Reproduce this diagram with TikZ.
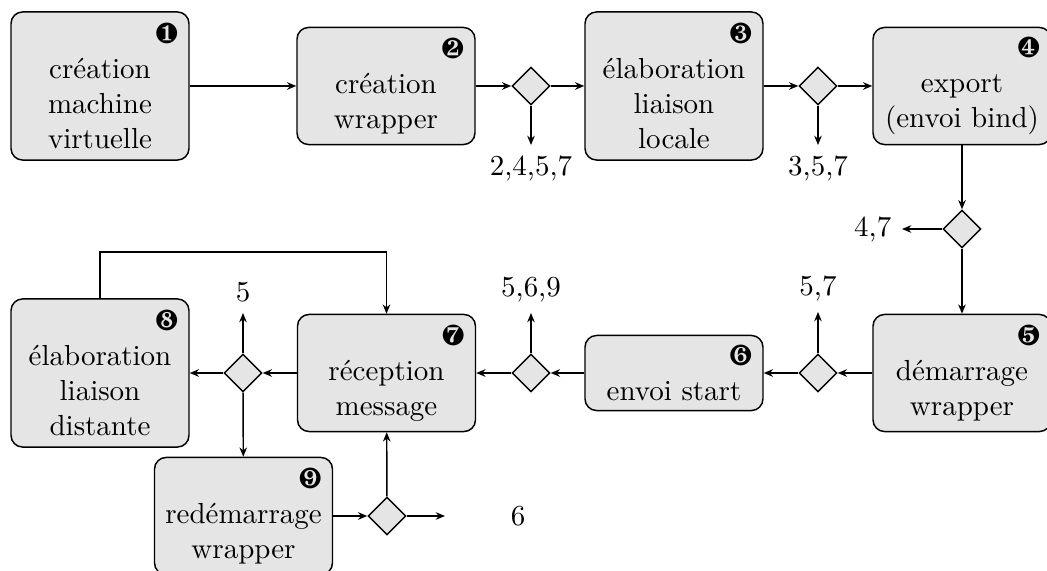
\documentclass[tikz,border=0pt]{standalone}
\usepackage{pifont}
\usetikzlibrary{shapes.geometric,arrows.meta}
\begin{document}
\begin{tikzpicture}[x=0.345pt,y=-0.345pt,
  box/.style={draw=black, fill=black!10, rounded corners=4pt, line width=0.5pt, align=center, text width=54pt, inner xsep=3.7pt, inner ysep=3pt, minimum width=61.4pt},
  h4/.style={minimum height=51.1pt},
  h3/.style={minimum height=40.4pt},
  h2/.style={minimum height=25.9pt},
  dia/.style={draw=black, fill=black!10, diamond, minimum width=13.1pt, minimum height=13.1pt, inner sep=0pt, line width=0.5pt},
  lbl/.style={inner sep=3.5pt},
  arr/.style={-{Stealth[length=3.2pt,width=2.6pt]}, line width=0.5pt}
]
\useasboundingbox (0,0) rectangle (1047,571);
% top row
\node[box,h4] (b1) at (100,86) {\hfill\ding{182}\\création\\machine\\virtuelle};
\node[box,h3] (b2) at (386,86) {\hfill\ding{183}\\création\\wrapper};
\node[dia] (d1) at (531,86) {};
\node[box,h4] (b3) at (674,86) {\hfill\ding{184}\\élaboration\\liaison\\locale};
\node[dia] (d2) at (818,86) {};
\node[box,h3] (b4) at (962,86) {\hfill\ding{185}\\export\\(envoi bind)};
\node[lbl,anchor=north] (l1) at (531,145) {2,4,5,7};
\node[lbl,anchor=north] (l2) at (818,145) {3,5,7};
% right column
\node[dia] (d3) at (962,229) {};
\node[lbl,anchor=east] (l3) at (902,229) {4,7};
% middle row
\node[box,h3] (b5) at (962,373) {\hfill\ding{186}\\démarrage\\wrapper};
\node[dia] (d4) at (818,373) {};
\node[box,h2] (b6) at (674,373) {\hfill\ding{187}\\envoi start};
\node[dia] (d5) at (531,373) {};
\node[box,h3] (b7) at (386.5,373) {\hfill\ding{188}\\réception\\message};
\node[dia] (d6) at (243,373) {};
\node[box,h4] (b8) at (100,373) {\hfill\ding{189}\\élaboration\\liaison\\distante};
\node[lbl,anchor=south] (l4) at (818,312) {5,7};
\node[lbl,anchor=south] (l5) at (531,313) {5,6,9};
\node[lbl,anchor=south] (l6) at (243,313) {5};
% bottom row
\node[box,h3] (b9) at (243.5,516) {\hfill\ding{190}\\redémarrage\\wrapper};
\node[dia] (d7) at (387,516) {};
\coordinate (e7) at (445,516);
\node[lbl] (l7) at (518,516) {6};
\coordinate (lp) at (100,252);
% connectors
\draw[arr] (b1) -- (b2);
\draw[arr] (b2) -- (d1);
\draw[arr] (d1) -- (b3);
\draw[arr] (d1) -- (l1);
\draw[arr] (b3) -- (d2);
\draw[arr] (d2) -- (b4);
\draw[arr] (d2) -- (l2);
\draw[arr] (b4) -- (d3);
\draw[arr] (d3) -- (l3);
\draw[arr] (d3) -- (b5);
\draw[arr] (b5) -- (d4);
\draw[arr] (d4) -- (b6);
\draw[arr] (d4) -- (l4);
\draw[arr] (b6) -- (d5);
\draw[arr] (d5) -- (b7);
\draw[arr] (d5) -- (l5);
\draw[arr] (b7) -- (d6);
\draw[arr] (d6) -- (b8);
\draw[arr] (d6) -- (l6);
\draw[arr] (d6) -- (b9);
\draw[arr] (b8.north) -- (lp) -| (b7.north);
\draw[arr] (b9) -- (d7);
\draw[arr] (d7) -- (e7);
\draw[arr] (d7) -- (b7);
\end{tikzpicture}
\end{document}
